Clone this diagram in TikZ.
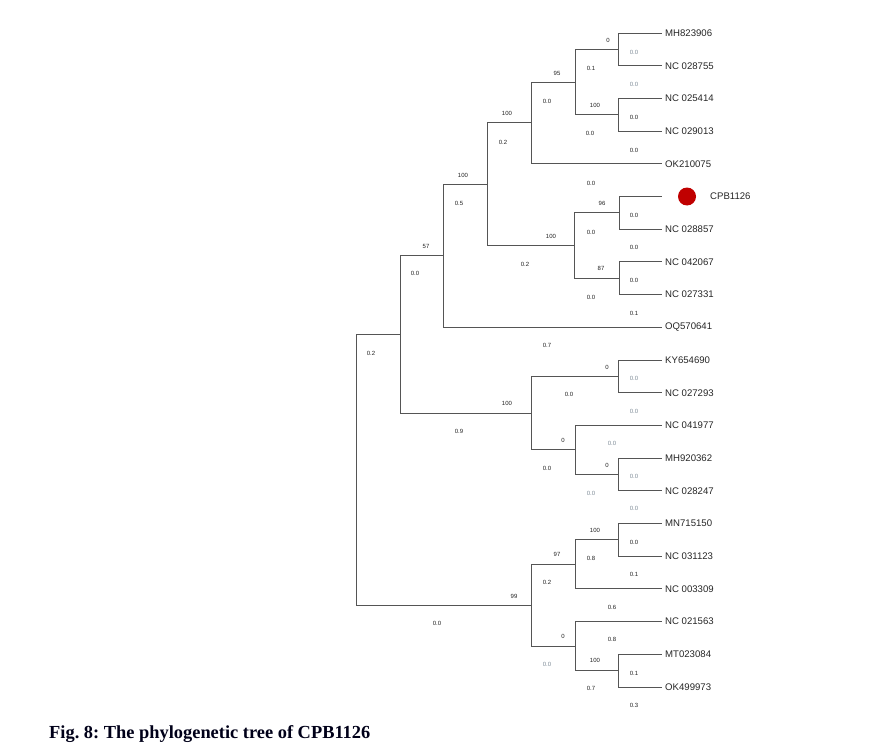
\documentclass[tikz,border=0pt]{standalone}
\usepackage{fontspec}
\setmainfont{Liberation Serif}
\newfontfamily\arialf{Liberation Sans}
\definecolor{linegray}{HTML}{555555}
\definecolor{labdark}{HTML}{222222}
\definecolor{labgray}{HTML}{7F8C98}
\definecolor{dotred}{HTML}{C00000}
\frenchspacing
\begin{document}
\begin{tikzpicture}[x=1pt,y=-1pt,
  br/.style={draw=linegray, line width=0.9pt},
  leaf/.style={anchor=west, inner xsep=3pt, inner ysep=0pt, font=\arialf\fontsize{9.6}{10}\selectfont, text=black!85},
  lab/.style={inner sep=0pt, font=\arialf\fontsize{6}{7}\selectfont, text=labdark},
  glab/.style={lab, text=labgray}]
\useasboundingbox[fill=white] (0,0) rectangle (895,752);

% leaves
\node[leaf] (l0) at (662,33) {MH823906};
\node[leaf] (l1) at (662,65.7) {NC 028755};
\node[leaf] (l2) at (662,98.4) {NC 025414};
\node[leaf] (l3) at (662,131.1) {NC 029013};
\node[leaf] (l4) at (662,163.8) {OK210075};
\coordinate (l5) at (662,196.5);
\node[circle, fill=dotred, inner sep=0pt, minimum size=18pt] (dot) at (687,196.5) {};
\node[leaf] (l5lab) at (707,196.5) {CPB1126};
\node[leaf] (l6) at (662,229.2) {NC 028857};
\node[leaf] (l7) at (662,261.9) {NC 042067};
\node[leaf] (l8) at (662,294.6) {NC 027331};
\node[leaf] (l9) at (662,327.3) {OQ570641};
\node[leaf] (l10) at (662,360) {KY654690};
\node[leaf] (l11) at (662,392.7) {NC 027293};
\node[leaf] (l12) at (662,425.4) {NC 041977};
\node[leaf] (l13) at (662,458.1) {MH920362};
\node[leaf] (l14) at (662,490.8) {NC 028247};
\node[leaf] (l15) at (662,523.5) {MN715150};
\node[leaf] (l16) at (662,556.2) {NC 031123};
\node[leaf] (l17) at (662,588.9) {NC 003309};
\node[leaf] (l18) at (662,621.6) {NC 021563};
\node[leaf] (l19) at (662,654.3) {MT023084};
\node[leaf] (l20) at (662,687) {OK499973};

% internal nodes
\coordinate (A) at (618,49.35);
\coordinate (B) at (618,114.75);
\coordinate (C) at (575,82.05);
\coordinate (D) at (531,122.9);
\coordinate (G) at (619,212.85);
\coordinate (H) at (619,278.25);
\coordinate (F) at (574,245.55);
\coordinate (E) at (487,184.2);
\coordinate (I) at (443,255.75);
\coordinate (L) at (618,376.35);
\coordinate (N) at (618,474.45);
\coordinate (M) at (575,449.9);
\coordinate (K) at (531,413.1);
\coordinate (J) at (400,334.4);
\coordinate (V) at (618,539.85);
\coordinate (T) at (575,564.4);
\coordinate (W) at (618,670.65);
\coordinate (U) at (575,646.1);
\coordinate (S) at (531,605.25);
\coordinate (R) at (356,469.8);

% branches
\draw[br] (A) |- (l0.west); \draw[br] (A) |- (l1.west);
\draw[br] (B) |- (l2.west); \draw[br] (B) |- (l3.west);
\draw[br] (C) |- (A); \draw[br] (C) |- (B);
\draw[br] (D) |- (C); \draw[br] (D) |- (l4.west);
\draw[br] (G) |- (l5); \draw[br] (G) |- (l6.west);
\draw[br] (H) |- (l7.west); \draw[br] (H) |- (l8.west);
\draw[br] (F) |- (G); \draw[br] (F) |- (H);
\draw[br] (E) |- (D); \draw[br] (E) |- (F);
\draw[br] (I) |- (E); \draw[br] (I) |- (l9.west);
\draw[br] (L) |- (l10.west); \draw[br] (L) |- (l11.west);
\draw[br] (N) |- (l13.west); \draw[br] (N) |- (l14.west);
\draw[br] (M) |- (l12.west); \draw[br] (M) |- (N);
\draw[br] (K) |- (L); \draw[br] (K) |- (M);
\draw[br] (J) |- (I); \draw[br] (J) |- (K);
\draw[br] (V) |- (l15.west); \draw[br] (V) |- (l16.west);
\draw[br] (T) |- (V); \draw[br] (T) |- (l17.west);
\draw[br] (W) |- (l19.west); \draw[br] (W) |- (l20.west);
\draw[br] (U) |- (l18.west); \draw[br] (U) |- (W);
\draw[br] (S) |- (T); \draw[br] (S) |- (U);
\draw[br] (R) |- (J); \draw[br] (R) |- (S);

% branch labels
\foreach \px/\py/\t/\s [count=\i] in {
 608/40/0/lab, 634/52/0.0/glab, 557/73/95/lab, 591/68/0.1/lab, 634/84/0.0/glab,
 547/101/0.0/lab, 595/105/100/lab, 507/113/100/lab, 634/117/0.0/lab, 503/142/0.2/lab,
 590/133/0.0/lab, 634/150/0.0/lab, 463/175/100/lab, 591/183/0.0/lab, 459/203/0.5/lab,
 602/203/96/lab, 634/215/0.0/lab, 426/246/57/lab, 551/236/100/lab, 591/232/0.0/lab,
 634/247/0.0/lab, 525/264/0.2/lab, 601/268/87/lab, 634/280/0.0/lab, 591/297/0.0/lab,
 634/313/0.1/lab, 415/273/0.0/lab, 371/353/0.2/lab, 547/345/0.7/lab, 607/367/0/lab,
 634/378/0.0/glab, 569/394/0.0/lab, 634/411/0.0/glab, 507/403/100/lab, 459/431/0.9/lab,
 563/440/0/lab, 612/443/0.0/glab, 607/465/0/lab, 547/468/0.0/lab, 634/476/0.0/glab,
 591/493/0.0/glab, 634/508/0.0/glab, 595/530/100/lab, 634/542/0.0/lab, 557/554/97/lab,
 591/558/0.8/lab, 634/574/0.1/lab, 547/582/0.2/lab, 514/596/99/lab, 612/607/0.6/lab,
 437/623/0.0/lab, 563/636/0/lab, 612/639/0.8/lab, 547/664/0.0/glab, 595/660/100/lab,
 634/673/0.1/lab, 591/688/0.7/lab, 634/705/0.3/lab}
 { \node[\s] (bl\i) at (\px,\py) {\t}; }

% caption
\node[anchor=base west, inner sep=0pt, font=\bfseries\fontsize{18.4}{20}\selectfont, text=black!90!blue] (cap) at (49,738) {Fig. 8: The phylogenetic tree of CPB1126};
\end{tikzpicture}
\end{document}
